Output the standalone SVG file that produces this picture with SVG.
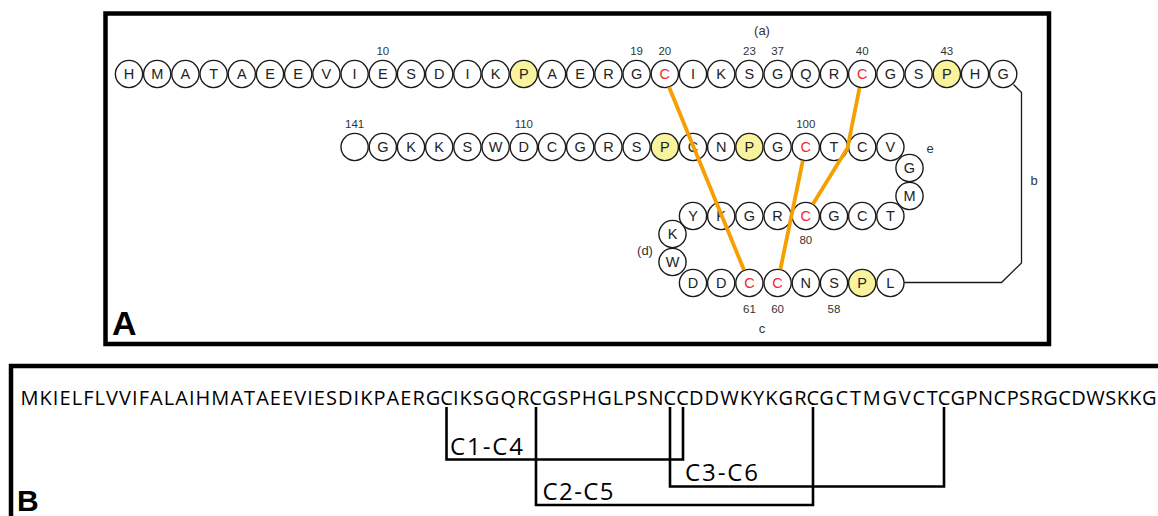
<svg xmlns="http://www.w3.org/2000/svg" width="1158" height="516" viewBox="0 0 1158 516">
  <style>
    .frame { fill: none; stroke: #000; stroke-width: 4.5; }
    .res circle { fill: #fff; stroke: #1a1a1a; stroke-width: 1.4; }
    .res text { font-family: "Liberation Sans", Arial, sans-serif; font-size: 14.5px; text-anchor: middle; fill: #222; }
    .res.pro circle { fill: #f8f39c; }
    .res.cys text { fill: #f0282a; }
    .num { font-family: "Liberation Sans", Arial, sans-serif; font-size: 11.5px; text-anchor: middle; fill: #333; }
    .lab { font-family: "Liberation Sans", Arial, sans-serif; font-size: 13px; text-anchor: middle; fill: #333; }
    .panel { font-family: "Liberation Sans", Arial, sans-serif; font-weight: bold; fill: #000; }
    .bond { fill: none; stroke: #f5a000; stroke-width: 3.8; stroke-linejoin: round; }
    .link { fill: none; stroke: #1a1a1a; stroke-width: 1.3; }
    .seq { font-family: "Open Sans", Lato, sans-serif; font-size: 20px; fill: #000; }
    .pair { fill: none; stroke: #000; stroke-width: 2.6; }
    .pairlab { font-family: "Open Sans", Lato, sans-serif; font-size: 24px; fill: #000; }
  </style>

  <!-- Panel frames -->
  <rect class="frame" x="105.5" y="13.5" width="943.5" height="330.5"/>
  <rect class="frame" x="11" y="366" width="1200" height="300"/>
  <text class="panel" x="112" y="335" font-size="34">A</text>
  <text class="panel" x="17" y="511" font-size="30">B</text>

  <!-- Row 1: residues 1-23, 37-45 -->
  <g id="row1">
    <g id="r1-01" class="res"><circle cx="129" cy="74" r="13.6"/><text x="129" y="79">H</text></g>
    <g id="r1-02" class="res"><circle cx="157.2" cy="74" r="13.6"/><text x="157.2" y="79">M</text></g>
    <g id="r1-03" class="res"><circle cx="185.4" cy="74" r="13.6"/><text x="185.4" y="79">A</text></g>
    <g id="r1-04" class="res"><circle cx="213.6" cy="74" r="13.6"/><text x="213.6" y="79">T</text></g>
    <g id="r1-05" class="res"><circle cx="241.8" cy="74" r="13.6"/><text x="241.8" y="79">A</text></g>
    <g id="r1-06" class="res"><circle cx="270" cy="74" r="13.6"/><text x="270" y="79">E</text></g>
    <g id="r1-07" class="res"><circle cx="298.2" cy="74" r="13.6"/><text x="298.2" y="79">E</text></g>
    <g id="r1-08" class="res"><circle cx="326.4" cy="74" r="13.6"/><text x="326.4" y="79">V</text></g>
    <g id="r1-09" class="res"><circle cx="354.6" cy="74" r="13.6"/><text x="354.6" y="79">I</text></g>
    <g id="r1-10" class="res"><circle cx="382.8" cy="74" r="13.6"/><text x="382.8" y="79">E</text></g>
    <g id="r1-11" class="res"><circle cx="411" cy="74" r="13.6"/><text x="411" y="79">S</text></g>
    <g id="r1-12" class="res"><circle cx="439.2" cy="74" r="13.6"/><text x="439.2" y="79">D</text></g>
    <g id="r1-13" class="res"><circle cx="467.4" cy="74" r="13.6"/><text x="467.4" y="79">I</text></g>
    <g id="r1-14" class="res"><circle cx="495.6" cy="74" r="13.6"/><text x="495.6" y="79">K</text></g>
    <g id="r1-15" class="res pro"><circle cx="523.8" cy="74" r="13.6"/><text x="523.8" y="79">P</text></g>
    <g id="r1-16" class="res"><circle cx="552" cy="74" r="13.6"/><text x="552" y="79">A</text></g>
    <g id="r1-17" class="res"><circle cx="580.2" cy="74" r="13.6"/><text x="580.2" y="79">E</text></g>
    <g id="r1-18" class="res"><circle cx="608.4" cy="74" r="13.6"/><text x="608.4" y="79">R</text></g>
    <g id="r1-19" class="res"><circle cx="636.6" cy="74" r="13.6"/><text x="636.6" y="79">G</text></g>
    <g id="r1-20" class="res cys"><circle cx="664.8" cy="74" r="13.6"/><text x="664.8" y="79">C</text></g>
    <g id="r1-21" class="res"><circle cx="693" cy="74" r="13.6"/><text x="693" y="79">I</text></g>
    <g id="r1-22" class="res"><circle cx="721.2" cy="74" r="13.6"/><text x="721.2" y="79">K</text></g>
    <g id="r1-23" class="res"><circle cx="749.4" cy="74" r="13.6"/><text x="749.4" y="79">S</text></g>
    <g id="r1-37" class="res"><circle cx="777.6" cy="74" r="13.6"/><text x="777.6" y="79">G</text></g>
    <g id="r1-38" class="res"><circle cx="805.8" cy="74" r="13.6"/><text x="805.8" y="79">Q</text></g>
    <g id="r1-39" class="res"><circle cx="834" cy="74" r="13.6"/><text x="834" y="79">R</text></g>
    <g id="r1-40" class="res cys"><circle cx="862.2" cy="74" r="13.6"/><text x="862.2" y="79">C</text></g>
    <g id="r1-41" class="res"><circle cx="890.4" cy="74" r="13.6"/><text x="890.4" y="79">G</text></g>
    <g id="r1-42" class="res"><circle cx="918.6" cy="74" r="13.6"/><text x="918.6" y="79">S</text></g>
    <g id="r1-43" class="res pro"><circle cx="946.8" cy="74" r="13.6"/><text x="946.8" y="79">P</text></g>
    <g id="r1-44" class="res"><circle cx="975" cy="74" r="13.6"/><text x="975" y="79">H</text></g>
    <g id="r1-45" class="res"><circle cx="1003.2" cy="74" r="13.6"/><text x="1003.2" y="79">G</text></g>
  </g>

  <!-- Row 2 -->
  <g id="row2">
    <g id="r2-00" class="res"><circle cx="354.6" cy="147" r="13.6"/></g>
    <g id="r2-01" class="res"><circle cx="382.8" cy="147" r="13.6"/><text x="382.8" y="152">G</text></g>
    <g id="r2-02" class="res"><circle cx="411" cy="147" r="13.6"/><text x="411" y="152">K</text></g>
    <g id="r2-03" class="res"><circle cx="439.2" cy="147" r="13.6"/><text x="439.2" y="152">K</text></g>
    <g id="r2-04" class="res"><circle cx="467.4" cy="147" r="13.6"/><text x="467.4" y="152">S</text></g>
    <g id="r2-05" class="res"><circle cx="495.6" cy="147" r="13.6"/><text x="495.6" y="152">W</text></g>
    <g id="r2-06" class="res"><circle cx="523.8" cy="147" r="13.6"/><text x="523.8" y="152">D</text></g>
    <g id="r2-07" class="res"><circle cx="552" cy="147" r="13.6"/><text x="552" y="152">C</text></g>
    <g id="r2-08" class="res"><circle cx="580.2" cy="147" r="13.6"/><text x="580.2" y="152">G</text></g>
    <g id="r2-09" class="res"><circle cx="608.4" cy="147" r="13.6"/><text x="608.4" y="152">R</text></g>
    <g id="r2-10" class="res"><circle cx="636.6" cy="147" r="13.6"/><text x="636.6" y="152">S</text></g>
    <g id="r2-11" class="res pro"><circle cx="664.8" cy="147" r="13.6"/><text x="664.8" y="152">P</text></g>
    <g id="r2-12" class="res"><circle cx="693" cy="147" r="13.6"/><text x="693" y="152">C</text></g>
    <g id="r2-13" class="res"><circle cx="721.2" cy="147" r="13.6"/><text x="721.2" y="152">N</text></g>
    <g id="r2-14" class="res pro"><circle cx="749.4" cy="147" r="13.6"/><text x="749.4" y="152">P</text></g>
    <g id="r2-15" class="res"><circle cx="777.6" cy="147" r="13.6"/><text x="777.6" y="152">G</text></g>
    <g id="r2-16" class="res cys"><circle cx="805.8" cy="147" r="13.6"/><text x="805.8" y="152">C</text></g>
    <g id="r2-17" class="res"><circle cx="834" cy="147" r="13.6"/><text x="834" y="152">T</text></g>
    <g id="r2-18" class="res"><circle cx="862.2" cy="147" r="13.6"/><text x="862.2" y="152">C</text></g>
    <g id="r2-19" class="res"><circle cx="890.4" cy="147" r="13.6"/><text x="890.4" y="152">V</text></g>
  </g>

  <!-- Turn e -->
  <g id="turn-e">
    <g id="te-1" class="res"><circle cx="909.5" cy="168" r="13.6"/><text x="909.5" y="173">G</text></g>
    <g id="te-2" class="res"><circle cx="909.5" cy="196" r="13.6"/><text x="909.5" y="201">M</text></g>
  </g>

  <!-- Row 3 -->
  <g id="row3">
    <g id="r3-1" class="res"><circle cx="693" cy="216" r="13.6"/><text x="693" y="221">Y</text></g>
    <g id="r3-2" class="res"><circle cx="721.2" cy="216" r="13.6"/><text x="721.2" y="221">K</text></g>
    <g id="r3-3" class="res"><circle cx="749.4" cy="216" r="13.6"/><text x="749.4" y="221">G</text></g>
    <g id="r3-4" class="res"><circle cx="777.6" cy="216" r="13.6"/><text x="777.6" y="221">R</text></g>
    <g id="r3-5" class="res cys"><circle cx="805.8" cy="216" r="13.6"/><text x="805.8" y="221">C</text></g>
    <g id="r3-6" class="res"><circle cx="834" cy="216" r="13.6"/><text x="834" y="221">G</text></g>
    <g id="r3-7" class="res"><circle cx="862.2" cy="216" r="13.6"/><text x="862.2" y="221">C</text></g>
    <g id="r3-8" class="res"><circle cx="890.4" cy="216" r="13.6"/><text x="890.4" y="221">T</text></g>
  </g>

  <!-- Turn d -->
  <g id="turn-d">
    <g id="td-1" class="res"><circle cx="672.5" cy="234" r="13.6"/><text x="672.5" y="239">K</text></g>
    <g id="td-2" class="res"><circle cx="672.5" cy="262" r="13.6"/><text x="672.5" y="267">W</text></g>
  </g>

  <!-- Row 4 -->
  <g id="row4">
    <g id="r4-1" class="res"><circle cx="693" cy="283" r="13.6"/><text x="693" y="288">D</text></g>
    <g id="r4-2" class="res"><circle cx="721.2" cy="283" r="13.6"/><text x="721.2" y="288">D</text></g>
    <g id="r4-3" class="res cys"><circle cx="749.4" cy="283" r="13.6"/><text x="749.4" y="288">C</text></g>
    <g id="r4-4" class="res cys"><circle cx="777.6" cy="283" r="13.6"/><text x="777.6" y="288">C</text></g>
    <g id="r4-5" class="res"><circle cx="805.8" cy="283" r="13.6"/><text x="805.8" y="288">N</text></g>
    <g id="r4-6" class="res"><circle cx="834" cy="283" r="13.6"/><text x="834" y="288">S</text></g>
    <g id="r4-7" class="res pro"><circle cx="862.2" cy="283" r="13.6"/><text x="862.2" y="288">P</text></g>
    <g id="r4-8" class="res"><circle cx="890.4" cy="283" r="13.6"/><text x="890.4" y="288">L</text></g>
  </g>

  <!-- Residue numbers and region labels -->
  <g id="numbers">
    <text class="num" x="382.8" y="55">10</text>
    <text class="num" x="636.6" y="55">19</text>
    <text class="num" x="664.8" y="55">20</text>
    <text class="num" x="749.4" y="55">23</text>
    <text class="num" x="777.6" y="55">37</text>
    <text class="num" x="862.2" y="55">40</text>
    <text class="num" x="946.8" y="55">43</text>
    <text class="num" x="354.6" y="128">141</text>
    <text class="num" x="523.8" y="128">110</text>
    <text class="num" x="805.8" y="128">100</text>
    <text class="num" x="805.8" y="244">80</text>
    <text class="num" x="749.4" y="313">61</text>
    <text class="num" x="777.6" y="313">60</text>
    <text class="num" x="834" y="313">58</text>
    <text class="lab" x="762" y="35">(a)</text>
    <text class="lab" x="1034" y="185">b</text>
    <text class="lab" x="762" y="333">c</text>
    <text class="lab" x="645" y="255">(d)</text>
    <text class="lab" x="930" y="153">e</text>
  </g>

  <!-- Connectors: disulfide bonds and the b loop -->
  <g id="connectors">
    <path class="bond" d="M669 87 L744 270"/>
    <path class="bond" d="M859.5 88 L847.5 148 L813 204"/>
    <path class="bond" d="M802.8 160.7 L780.4 269.3"/>
    <path class="link" d="M1013.5 84.5 L1021.5 92.5 L1021.5 263 L1001.5 282.5 L904.2 282.5"/>
  </g>

  <!-- Panel B: precursor sequence with cysteine pairing -->
  <g id="sequence">
    <text class="seq" y="405"><tspan x="20.5" textLength="419.9" lengthAdjust="spacing">MKIELFLVVIFALAIHMATAEEVIESDIKPAERG</tspan><tspan x="440.2">C</tspan><tspan x="453" textLength="76.3" lengthAdjust="spacing">IKSGQR</tspan><tspan x="529.3">C</tspan><tspan x="542" textLength="121.5" lengthAdjust="spacing">GSPHGLPSN</tspan><tspan x="663.6">C</tspan><tspan x="676.3">C</tspan><tspan x="689" textLength="117.5" lengthAdjust="spacing">DDWKYKGR</tspan><tspan x="806.5">C</tspan><tspan x="819.3" textLength="118.5" lengthAdjust="spacing">GCTMGVCT</tspan><tspan x="937.8">C</tspan><tspan x="950.6" textLength="206" lengthAdjust="spacing">GPNCPSRGCDWSKKG</tspan></text>
  </g>
  <g id="pairings">
    <path class="pair" d="M446.5 407 V459.5 H683 V407"/>
    <path class="pair" d="M670 407 V486.5 H944 V407"/>
    <path class="pair" d="M536 407 V505 H813 V407"/>
    <text class="pairlab" x="450" y="455" textLength="73" lengthAdjust="spacing">C1-C4</text>
    <text class="pairlab" x="685" y="481" textLength="73" lengthAdjust="spacing">C3-C6</text>
    <text class="pairlab" x="542.5" y="500" textLength="71" lengthAdjust="spacing">C2-C5</text>
  </g>
</svg>
